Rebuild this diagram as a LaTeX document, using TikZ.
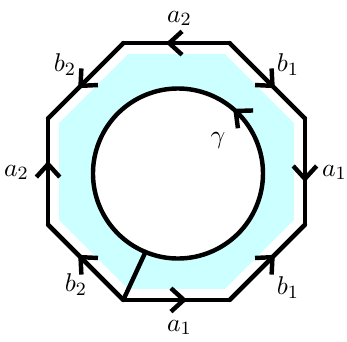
\documentclass[tikz,border=0pt]{standalone}
\usetikzlibrary{arrows.meta,decorations.markings,calc}
\definecolor{paleaqua}{RGB}{204,255,255}

\begin{document}
\begin{tikzpicture}[x=0.015cm, y=0.015cm, font=\fontsize{11pt}{13pt}\selectfont,
  thickline/.style={line width=1.9pt, line cap=round},
  edge/.style={thickline, postaction={decorate}, decoration={markings, mark=at position #1 with {\arrow{Straight Barb[length=5.5pt,width=10pt]}}}},
  edge/.default=0.6]
\useasboundingbox (-176.5,-169.5) rectangle (170.5,171.5);
% corners of the octagon
\foreach \i in {0,...,7} \coordinate (v\i) at (22.5+45*\i:139);
\coordinate (c) at (1.5,-2);
\coordinate (g0) at ($(c)+(247.5:85)$);
% shaded band
\fill[paleaqua] (22.5:127) \foreach \i in {1,...,7} {-- (22.5+45*\i:127)} -- cycle;
\fill[white] (c) circle[radius=85];
% sides
\draw[edge] (v1) -- (v2);
\draw[edge] (v4) -- (v3);
\draw[edge] (v2) -- (v3);
\draw[edge] (v5) -- (v4);
\draw[edge] (v0) -- (v7);
\draw[edge] (v1) -- (v0);
\draw[edge] (v6) -- (v7);
\draw[edge] (v5) -- (v6);
% loop gamma
\draw[edge=0.45] (g0) arc[start angle=247.5, end angle=607.5, radius=85];
\draw[thickline] (g0) -- (v5);
% labels
\foreach \p/\t/\n in {{(3,153)}/a_2/lat, {(111.5,106.5)}/b_1/lbtr, {(158,-1)}/a_1/lar,
  {(111.5,-116.5)}/b_1/lbbr, {(3,-156)}/a_1/lab, {(-100.5,-113.5)}/b_2/lbbl,
  {(-160,-1)}/a_2/lal, {(-111.5,106.5)}/b_2/lbtl, {(41.5,31.5)}/\gamma/lg}
  \node (\n) at \p {$\t$};
\end{tikzpicture}
\end{document}
